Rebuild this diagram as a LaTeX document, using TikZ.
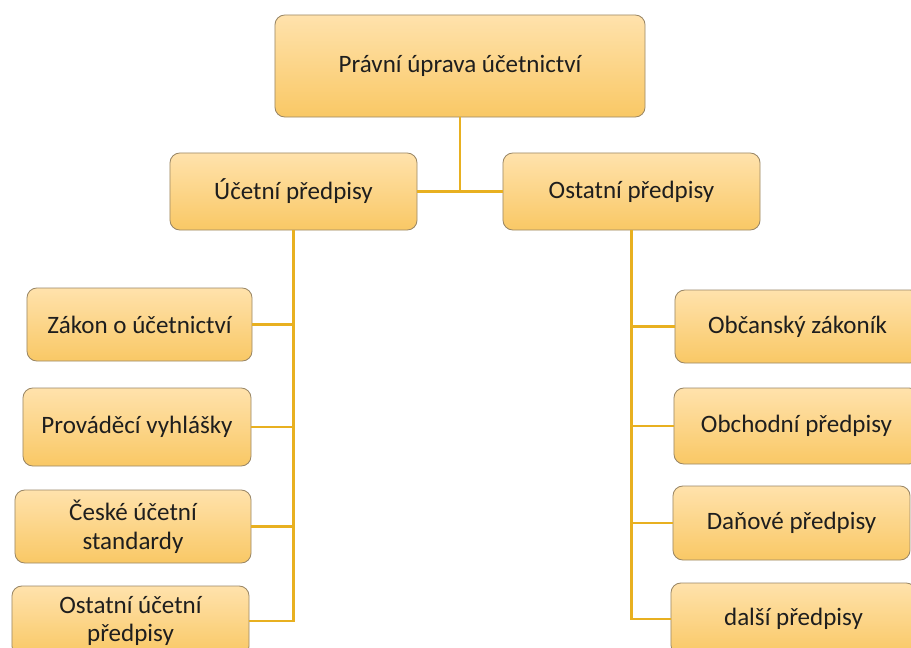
\documentclass[tikz,border=0pt]{standalone}
\usepackage{fontspec}
\setmainfont{Carlito}
\definecolor{BoxTop}{HTML}{FFE2AC}
\definecolor{BoxBot}{HTML}{F9C865}
\definecolor{Frame}{HTML}{9A8766}
\definecolor{Wire}{HTML}{E8B020}
\definecolor{Ink}{HTML}{1E1E1E}
\begin{document}
\begin{tikzpicture}[x=0.025cm,y=-0.025cm,
  box/.style={draw=Frame,line width=.6pt,rounded corners=7pt,top color=BoxTop,bottom color=BoxBot,
    align=center,font=\fontsize{17.8}{20.5}\selectfont,text=Ink,inner sep=2pt},
  wire/.style={Wire,line width=1.7pt}]
\useasboundingbox (0,0) rectangle (911,647);
\clip (0,0) rectangle (911,647);
\fill[white] (0,0) rectangle (911,647);
% top levels
\node[box,minimum width=9.25cm,minimum height=2.55cm] (top) at (460,66) {Právní úprava účetnictví};
\node[box,minimum width=6.175cm,minimum height=1.925cm] (ucet) at (293.5,191.5) {Účetní předpisy};
\node[box,minimum width=6.425cm,minimum height=1.925cm] (ostat) at (631.5,191.5) {Ostatní předpisy};
\coordinate (hub) at (460,191.5);
% left branch
\node[box,minimum width=5.625cm,minimum height=1.825cm] (zakon) at (139.5,324.5) {Zákon o účetnictví};
\node[box,minimum width=5.7cm,minimum height=1.95cm] (vyhl) at (137,427) {Prováděcí vyhlášky};
\node[box,minimum width=5.9cm,minimum height=1.825cm] (cus) at (133,526.5) {České účetní\\standardy};
\node[box,minimum width=5.925cm,minimum height=1.75cm] (ostuc) at (130.5,621) {Ostatní účetní\\předpisy};
% right branch
\node[box,minimum width=6.125cm,minimum height=1.825cm] (obcan) at (797.5,326.5) {Občanský zákoník};
\node[box,minimum width=6.125cm,minimum height=1.9cm] (obch) at (796.5,426) {Obchodní předpisy};
\node[box,minimum width=5.925cm,minimum height=1.85cm] (dane) at (791.5,523) {Daňové předpisy};
\node[box,minimum width=6.125cm,minimum height=1.8cm] (dalsi) at (793.5,619) {další předpisy};
% connectors
\draw[wire] (top.south)--(hub);
\draw[wire] (ucet.east)--(ostat.west);
\foreach \n in {zakon,vyhl,cus,ostuc}\draw[wire] (ucet.south) |- (\n.east);
\foreach \n in {obcan,obch,dane,dalsi}\draw[wire] (ostat.south) |- (\n.west);
\end{tikzpicture}
\end{document}
